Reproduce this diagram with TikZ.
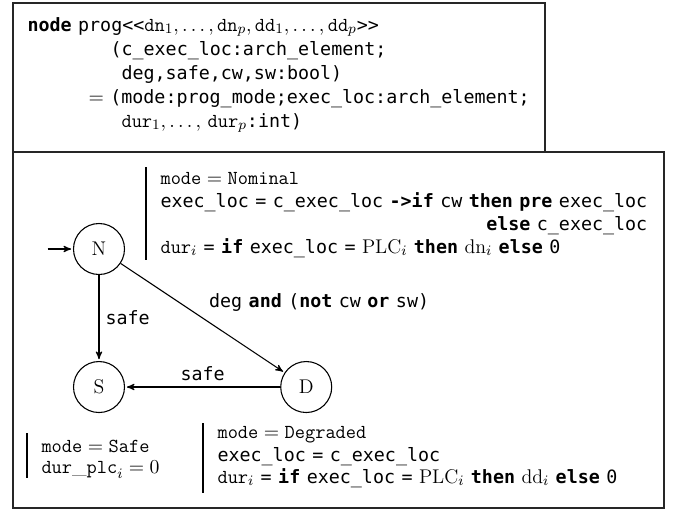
\documentclass[tikz,border=0pt]{standalone}
\usepackage{amsmath}
\usepackage{amssymb}
\usepackage{fontspec}
\usetikzlibrary{arrows,automata}
\newfontfamily\codefont{DejaVu Sans Mono}[Ligatures=TeXOff,Scale=0.925]
\newcommand{\code}[1]{{\codefont #1}}
\newcommand{\kw}[1]{{\codefont\bfseries #1}}

\begin{document}
\begin{tikzpicture}[->,>=stealth',shorten >=1pt,auto,x=0.555pt,y=-0.555pt,semithick,font=\fontsize{11}{13}\selectfont]
		\tikzstyle{every state}=[fill=white,draw=black,text=black,minimum size=28.3pt,inner sep=0pt]
		\tikzstyle{line}=[anchor=base west,inner sep=0pt]
		\tikzstyle{frame}=[-,line width=0.8pt,draw=black!85]
		\tikzstyle{bar}=[-,semithick]
		
		\useasboundingbox (0,0) rectangle (679,510);
		\draw[frame] (13,3) rectangle (545,152);
		\draw[frame] (13,152) rectangle (664,508);
		
		% signature of the node
		\node[line] (sig1) at (27,31) {\kw{node} \code{prog<<}$\mathtt{dn}_1,\ldots,\mathtt{dn}_p,\mathtt{dd}_1,\ldots,\mathtt{dd}_p$\code{>>}};
		\node[line] (sig2) at (110,55) {\code{(c\_exec\_loc:arch\_element;}};
		\node[line] (sig3) at (121,79) {\code{deg,safe,cw,sw:bool)}};
		\node[line] (sig4) at (88,103) {$=$ \code{(mode:prog\_mode;exec\_loc:arch\_element;}};
		\node[line] (sig5) at (121,127) {$\mathtt{dur}_1,\ldots,$ $\mathtt{dur}_p$\code{:int)}};
		
		% automaton
		\node[state,initial,initial text=,initial distance=14pt] (N) at (99,249) {N};
		\node[state] (S) [below of=N,node distance=76.6pt] {S};
		\node[state] (D) [right of=S,node distance=115pt] {D};
		
		\path 
		(N) edge node {\code{safe}} (S)
		(N) edge node {\code{deg} \kw{and} \code{(}\kw{not} \code{cw} \kw{or} \code{sw)}} (D)
		(D) edge node[swap] {\code{safe}} (S);
		
		% Nominal
		\draw[bar] (146,167) -- (146,262);
		\node[line] (nom1) at (160,184) {$\mathtt{mode} = \mathtt{Nominal}$};
		\node[line] (nom2) at (160,207) {\code{exec\_loc} \code{=} \code{c\_exec\_loc} \kw{->if} \code{cw} \kw{then} \kw{pre} \code{exec\_loc}};
		\node[anchor=base east,inner sep=0pt] (nom3) at (nom2.base east |- 0,230) {\kw{else} \code{c\_exec\_loc}};
		\node[line] (nom4) at (160,253) {$\mathtt{dur}_i$ \code{=} \kw{if} \code{exec\_loc} \code{=} $\mathrm{PLC}_i$ \kw{then} $\mathrm{dn}_i$ \kw{else} \code{0}};
		
		% Safe
		\draw[bar] (27,433) -- (27,480);
		\node[line] (safe1) at (41,452) {$\mathtt{mode} = \mathtt{Safe}$};
		\node[line] (safe2) at (41,473) {$\mathtt{dur\_plc}_i = 0$};
		
		% Degraded
		\draw[bar] (203,423) -- (203,495);
		\node[line] (deg1) at (217,438) {$\mathtt{mode} = \mathtt{Degraded}$};
		\node[line] (deg2) at (217,461) {\code{exec\_loc} \code{=} \code{c\_exec\_loc}};
		\node[line] (deg3) at (217,483) {$\mathtt{dur}_i$ \code{=} \kw{if} \code{exec\_loc} \code{=} $\mathrm{PLC}_i$ \kw{then} $\mathrm{dd}_i$ \kw{else} \code{0}};
	\end{tikzpicture}
\end{document}
